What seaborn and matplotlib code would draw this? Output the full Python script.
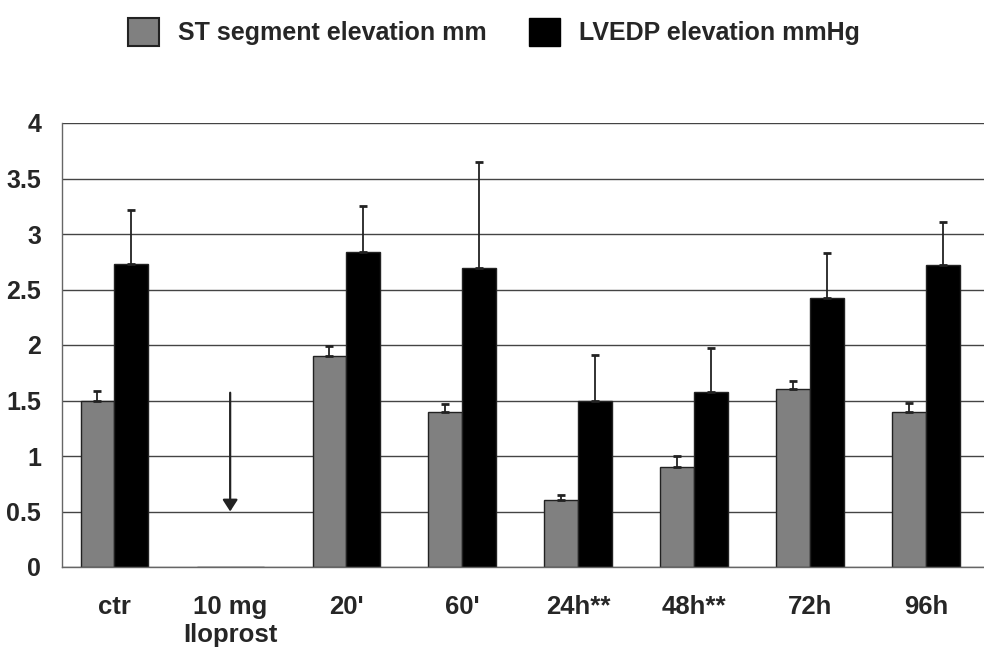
import matplotlib
matplotlib.use("Agg")
import matplotlib.pyplot as plt
from matplotlib.patches import Patch
import seaborn as sns
import pandas as pd

categories = ["ctr", "10 mg\nIloprost", "20'", "60'", "24h**", "48h**", "72h", "96h"]
st_values = [1.50, 0.0, 1.90, 1.40, 0.60, 0.90, 1.60, 1.40]
st_errors = [0.09, 0.0, 0.09, 0.07, 0.05, 0.10, 0.08, 0.08]
lvedp_values = [2.73, 0.0, 2.84, 2.69, 1.50, 1.58, 2.42, 2.72]
lvedp_errors = [0.49, 0.0, 0.41, 0.96, 0.41, 0.39, 0.41, 0.39]
series_names = ["ST segment elevation mm", "LVEDP elevation mmHg"]
arrow_from, arrow_to = 1.57, 0.50

sns.set_theme(style="white")
plt.rcParams["font.family"] = ["Liberation Sans", "DejaVu Sans"]
plt.rcParams["font.weight"] = "bold"

df = pd.DataFrame({
    "category": categories * 2,
    "series": [series_names[0]] * len(categories) + [series_names[1]] * len(categories),
    "value": st_values + lvedp_values,
})

fig = plt.figure(figsize=(9.84, 6.48), dpi=100)
ax = fig.add_axes([62 / 984, 81 / 648, 922 / 984, 444 / 648])

palette = {series_names[0]: "#808080", series_names[1]: "#000000"}
sns.barplot(data=df, x="category", y="value", hue="series", order=categories,
            hue_order=series_names, palette=palette, width=0.58, errorbar=None,
            edgecolor="#222222", linewidth=1.0, saturation=1.0, legend=False, ax=ax)

# upward-only error bars at each bar centre
n = len(categories)
bars = ax.patches
for k, (vals, errs) in enumerate([(st_values, st_errors), (lvedp_values, lvedp_errors)]):
    for i in range(n):
        if errs[i] <= 0:
            continue
        p = bars[k * n + i]
        xc = p.get_x() + p.get_width() / 2
        ax.errorbar(xc, vals[i], yerr=[[0], [errs[i]]], fmt="none",
                    ecolor="#222222", elinewidth=1.3, capsize=3, capthick=2.0, zorder=3)

# arrow for the iloprost group
ax.annotate("", xy=(1, arrow_to), xytext=(1, arrow_from),
            arrowprops=dict(arrowstyle="-|>,head_length=0.7,head_width=0.45", color="#222222",
                            lw=1.6, mutation_scale=10, shrinkA=0, shrinkB=0))

ax.set_xlim(-0.45, 7.5)
ax.set_ylim(0, 4)
ax.set_yticks([0, 0.5, 1, 1.5, 2, 2.5, 3, 3.5, 4])
ax.set_yticklabels(["0", "0.5", "1", "1.5", "2", "2.5", "3", "3.5", "4"])
ax.yaxis.grid(True, color="#444444", linewidth=1.0)
ax.set_axisbelow(True)
ax.set_xlabel("")
ax.set_ylabel("")

ax.set_xticks(range(n))
ax.set_xticklabels(categories, fontsize=18.5, fontweight="bold", linespacing=1.2)
ax.tick_params(axis="x", length=0, pad=20)
ax.set_xticks([-0.45] + [i + 0.5 for i in range(n - 1)], minor=True)
ax.tick_params(axis="x", which="minor", length=6, width=1, color="#666666", direction="out")
ax.tick_params(axis="y", length=6, width=1, color="#666666", direction="out", labelsize=18, pad=9)
for lab in ax.get_yticklabels():
    lab.set_fontweight("bold")

for s in ["top", "right"]:
    ax.spines[s].set_visible(False)
for s in ["left", "bottom"]:
    ax.spines[s].set_color("#666666")
    ax.spines[s].set_linewidth(1.0)

handles = [Patch(facecolor="#808080", edgecolor="#222222", linewidth=1.5, label=series_names[0]),
           Patch(facecolor="#000000", edgecolor="#000000", label=series_names[1])]
fig.legend(handles=handles, loc="center", bbox_to_anchor=(494 / 984, 1 - 32 / 648), ncol=2,
           frameon=False, prop={"size": 18, "weight": "bold"}, handlelength=1.25,
           handleheight=1.3, columnspacing=1.7, handletextpad=0.75, borderpad=0)

fig.savefig("out.png", dpi=100)
